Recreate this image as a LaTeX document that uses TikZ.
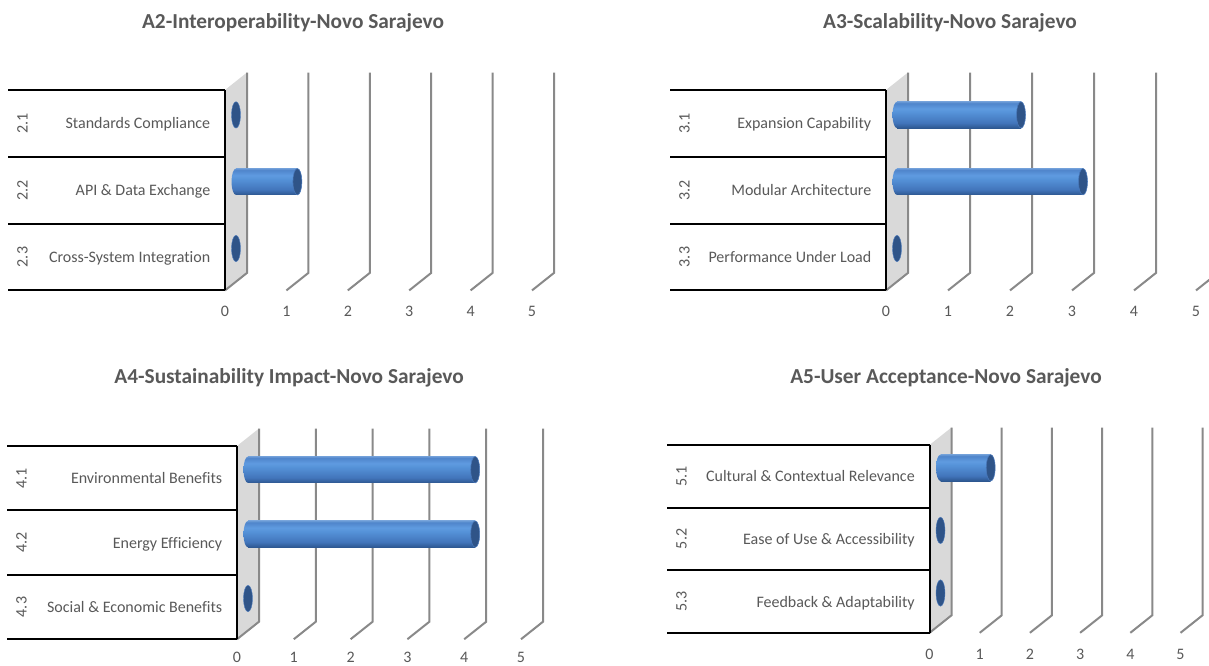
\documentclass[tikz,border=0pt]{standalone}
\usepackage{fontspec}
\setmainfont{Carlito}[Ligatures=NoCommon]

\definecolor{txtgray}{HTML}{595959}
\definecolor{gridgray}{HTML}{898989}
\definecolor{wallgray}{HTML}{D9D9D9}
\definecolor{barB}{HTML}{2D5790}
\definecolor{barL}{HTML}{4275BB}
\definecolor{barM}{HTML}{5592D8}
\definecolor{barH}{HTML}{5F9BE0}
\definecolor{barU}{HTML}{4F85CB}
\definecolor{barT}{HTML}{6A9AD6}
\definecolor{capfill}{HTML}{2F5488}
\definecolor{caprim}{HTML}{4A79BB}

% cylinder body: dark lower edge, bright band in the upper half
\pgfdeclareverticalshading{barshade}{100bp}{%
  color(0bp)=(barB); color(25bp)=(barB); color(35bp)=(barL);
  color(55bp)=(barM); color(62bp)=(barH); color(72bp)=(barU);
  color(75bp)=(barT); color(100bp)=(barT)}

\tikzset{
  gridln/.style={draw=gridgray, line width=1.5pt},
  tableln/.style={draw=black, line width=1.5pt},
  charttitle/.style={font=\bfseries\fontsize{16}{18}\selectfont, text=txtgray, anchor=base, inner sep=0pt},
  vlabel/.style={font=\fontsize{12}{14}\selectfont, text=txtgray, inner sep=0pt},
  numlabel/.style={font=\fontsize{12}{14}\selectfont, text=txtgray, inner sep=0pt, rotate=90},
  namelabel/.style={font=\fontsize{12}{14}\selectfont, text=txtgray, inner sep=0pt, anchor=base east},
  endcap/.style={fill=capfill, draw=caprim, line width=0.4pt},
  zerocap/.style={fill=capfill, draw=caprim, line width=0.3pt},
}

% chart parameters: prefix, left edge, axis x, unit width, top rule y, row height, scale label offset
\newcommand\chartparams[7]{%
  \def\cPre{#1}\def\cXs{#2}\def\cAx{#3}\def\cSt{#4}\def\cYt{#5}\def\cRh{#6}\def\cLo{#7}}
\def\cDx{22}
\def\cDy{17.5}

% back wall, grid, value scale and category table
\newcommand\chartframe{%
  \pgfmathsetmacro\cYb{\cYt+3*\cRh}
  \fill[wallgray] (\cAx,\cYt) -- (\cAx+\cDx,\cYt-\cDy) -- (\cAx+\cDx,\cYb-\cDy) -- (\cAx,\cYb) -- cycle;
  \foreach \k in {0,...,5}{
    \draw[gridln] (\cAx+\k*\cSt+\cDx,\cYt-\cDy) -- (\cAx+\k*\cSt+\cDx,\cYb-\cDy) -- (\cAx+\k*\cSt,\cYb);
    \node[vlabel] (\cPre-v\k) at (\cAx+\k*\cSt,\cYb+\cLo) {\k};
  }
  \foreach \i in {0,...,3}{
    \draw[tableln] (\cXs,\cYt+\i*\cRh) -- (\cAx,\cYt+\i*\cRh);
  }
  \draw[tableln] (\cAx,\cYt) -- (\cAx,\cYb);
}

% one category row: index, code, name, value
\newcommand\category[4]{%
  \pgfmathsetmacro\cY{\cYt+(#1-0.5)*\cRh}
  \node[numlabel] (\cPre-n#1) at (\cXs+14.5,\cY) {#2};
  \node[namelabel] (\cPre-c#1) at (\cAx-14.5,\cY+5.5) {#3};
  \pgfmathsetmacro\bY{\cY-8.5}
  \pgfmathsetmacro\bA{\cAx+11}
  \pgfmathsetmacro\bB{\bA+#4*\cSt}
  \ifdim #4pt>0pt
    \shade[shading=barshade] (\bA,\bY) ellipse [x radius=4.5, y radius=13.2];
    \shade[shading=barshade] (\bA,\bY-13.2) rectangle (\bB,\bY+13.2);
    \filldraw[endcap] (\bB,\bY) ellipse [x radius=4.5, y radius=13.2];
  \else
    \filldraw[zerocap] (\bA,\bY) ellipse [x radius=4.5, y radius=13.2];
  \fi
}

\begin{document}
\begin{tikzpicture}[x=0.75pt, y=-0.75pt]
  \useasboundingbox (0,0) rectangle (1209,665);
  \clip (0,0) rectangle (1209,665);
  \fill[white] (0,0) rectangle (1209,665);

  % A2
  \node[charttitle] (a2-title) at (293,28) {A2-Interoperability-Novo Sarajevo};
  \chartparams{a2}{8}{225}{61.4}{90}{66.8}{21}
  \chartframe
  \category{1}{2.1}{Standards Compliance}{0}
  \category{2}{2.2}{API \& Data Exchange}{1}
  \category{3}{2.3}{Cross-System Integration}{0}

  % A3
  \node[charttitle] (a3-title) at (950,28) {A3-Scalability-Novo Sarajevo};
  \chartparams{a3}{670}{886}{62}{90}{66.8}{21}
  \chartframe
  \category{1}{3.1}{Expansion Capability}{2}
  \category{2}{3.2}{Modular Architecture}{3}
  \category{3}{3.3}{Performance Under Load}{0}

  % A4
  \node[charttitle] (a4-title) at (289,383) {A4-Sustainability Impact-Novo Sarajevo};
  \chartparams{a4}{7}{237}{56.8}{446}{64.4}{18.5}
  \chartframe
  \category{1}{4.1}{Environmental Benefits}{4}
  \category{2}{4.2}{Energy Efficiency}{4}
  \category{3}{4.3}{Social \& Economic Benefits}{0}

  % A5
  \node[charttitle] (a5-title) at (946,383) {A5-User Acceptance-Novo Sarajevo};
  \chartparams{a5}{667}{929.5}{50.2}{445}{62.6}{21.5}
  \chartframe
  \category{1}{5.1}{Cultural \& Contextual Relevance}{1}
  \category{2}{5.2}{Ease of Use \& Accessibility}{0}
  \category{3}{5.3}{Feedback \& Adaptability}{0}
\end{tikzpicture}
\end{document}
